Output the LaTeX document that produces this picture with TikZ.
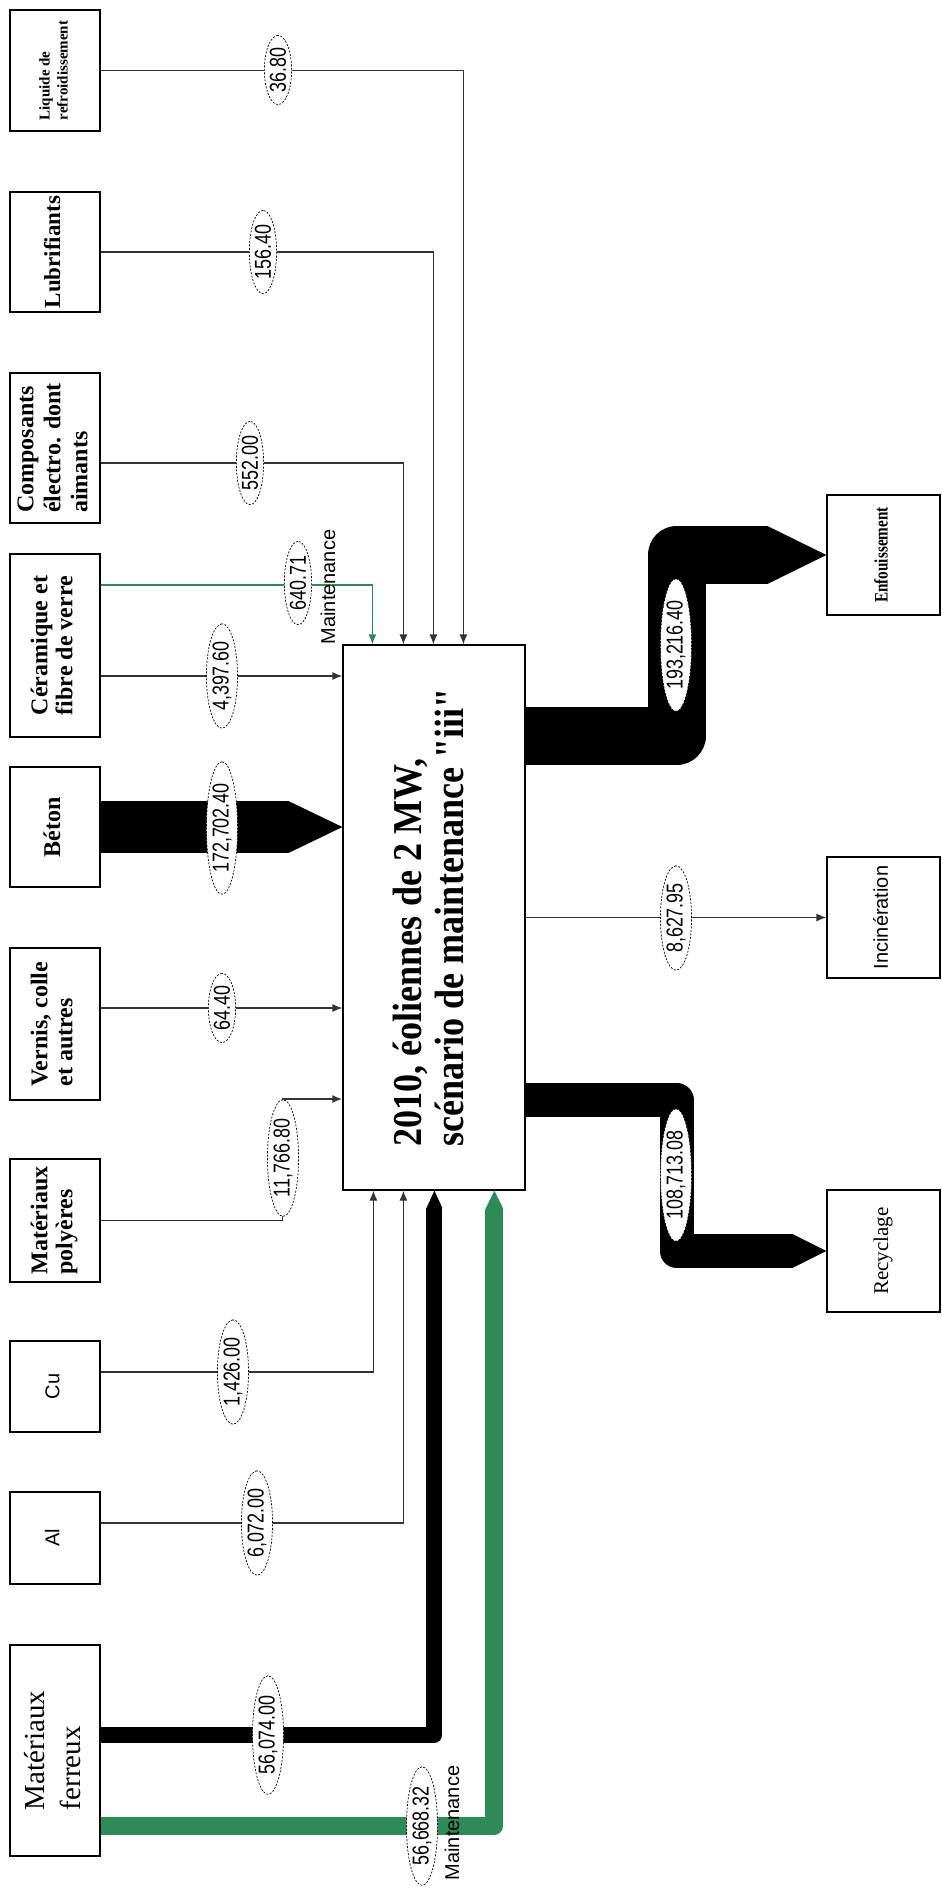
\documentclass[tikz,border=0pt]{standalone}
\usepackage{fontspec}
\setmainfont{Liberation Serif}
\newfontfamily\titlefont[FakeStretch=0.88]{Liberation Serif}
\newfontfamily\valfont[FakeStretch=0.78]{Liberation Sans}
\newfontfamily\lblsans{Liberation Sans}
\newfontfamily\narrowserif[FakeStretch=0.8]{Liberation Serif}
\usepackage{graphicx}
\usepackage{tikz}
\usetikzlibrary{calc,arrows.meta,positioning,shapes.geometric}
\definecolor{linec}{HTML}{333333}
\definecolor{maintc}{HTML}{2E8B57}
\newcommand{\vtext}[2]{\rotatebox{90}{#1\begin{tabular}{@{}l@{}}#2\end{tabular}}}
\tikzset{
  box/.style={draw=black,line width=1.2pt,fill=white,inner sep=0pt},
  srcbox/.style={box,minimum width=90pt},
  outbox/.style={box,minimum width=113pt},
  ar/.style={-{Latex[length=10pt,width=8pt]},line width=1.2pt,linec},
  mar/.style={ar,maintc},
  band/.style={line width=#1,line join=round},
  val/.style={ellipse,draw,dash pattern=on 2pt off 1.5pt,line width=0.7pt,fill=white,rotate=90,
    inner xsep=2pt,inner ysep=1.5pt,minimum height=27pt,font=\valfont\fontsize{23}{25}\selectfont},
  mnote/.style={rotate=90,inner sep=0pt,font=\lblsans\fontsize{20}{22}\selectfont}
}

\begin{document}
\begin{tikzpicture}[x=1pt,y=-1pt]
\useasboundingbox (0,0) rectangle (942,1888);
\fill[white] (0,0) rectangle (942,1888);
% inputs
\node[srcbox,minimum height=121pt] (liq) at (55,70.5) {\vtext{\bfseries\fontsize{15}{18}\selectfont}{Liquide de\\refroidissement}};
\node[srcbox,minimum height=120pt] (lub) at (55,252) {\vtext{\bfseries\fontsize{23}{26}\selectfont}{Lubrifiants}};
\node[srcbox,minimum height=150pt] (comp) at (55,448) {\vtext{\bfseries\fontsize{24}{27}\selectfont}{Composants\\électro. dont\\aimants}};
\node[srcbox,minimum height=183pt] (cer) at (55,645.5) {\vtext{\bfseries\fontsize{24}{25}\selectfont}{Céramique et\\fibre de verre}};
\node[srcbox,minimum height=120pt] (bet) at (55,827) {\vtext{\bfseries\fontsize{24}{26}\selectfont}{Béton}};
\node[srcbox,minimum height=152pt] (ver) at (55,1024) {\vtext{\bfseries\fontsize{24}{25}\selectfont}{Vernis, colle\\et autres}};
\node[srcbox,minimum height=123pt] (pol) at (55,1220.5) {\vtext{\bfseries\fontsize{24}{25}\selectfont}{Matériaux\\polyères}};
\node[srcbox,minimum height=91pt] (cu) at (55,1386.5) {\vtext{\lblsans\fontsize{20}{22}\selectfont}{Cu}};
\node[srcbox,minimum height=92pt] (al) at (55,1538) {\vtext{\lblsans\fontsize{20}{22}\selectfont}{Al}};
\node[srcbox,minimum height=211pt] (fer) at (55,1750.5) {\vtext{\fontsize{29}{36}\selectfont}{Matériaux\\ferreux}};
% process and outputs
\node[box,minimum width=182pt,minimum height=545pt] (centre) at (434,917.5)
  {\vtext{\titlefont\bfseries\fontsize{41}{42}\selectfont}{2010, éoliennes de 2 MW,\\scénario de maintenance "iii"}};
\node[outbox,minimum height=120pt] (enf) at (883.5,555) {\vtext{\narrowserif\bfseries\fontsize{19}{21}\selectfont}{Enfouissement}};
\node[outbox,minimum height=121pt] (inc) at (883.5,917.5) {\vtext{\lblsans\fontsize{20}{22}\selectfont}{Incinération}};
\node[outbox,minimum height=122pt] (rec) at (883.5,1251) {\vtext{\fontsize{21}{23}\selectfont}{Recyclage}};

% flows from above
\draw[ar] (liq.east) -| ($(centre.north west)+(121,0)$);
\draw[ar] (lub.east) -| ($(centre.north west)+(91,0)$);
\draw[ar] ($(comp.east)+(0,15)$) -| ($(centre.north west)+(61,0)$);
\draw[mar] ($(cer.east)+(0,-60.5)$) -| ($(centre.north west)+(30,0)$);
% flows from the left
\coordinate (cerb) at ($(cer.east)+(0,30.5)$);
\draw[ar] (cerb) -- (cerb -| centre.west);
\coordinate (betip) at (centre.west |- bet.east);
\draw[band=52pt] (bet.east) -- ($(betip)+(-53.5,0)$);
\fill ($(betip)+(-54,-26)$) -- (betip) -- ($(betip)+(-54,26)$) -- cycle;
\coordinate (verb) at ($(ver.east)+(0,-16)$);
\draw[ar] (verb) -- (verb -| centre.west);
\draw[ar,line width=1.8pt] (pol.east) -| ($(centre.west)+(-60,181.5)$) -- ($(centre.west)+(0,181.5)$);
% flows from below
\draw[ar] ($(cu.east)+(0,-14.5)$) -| ($(centre.south west)+(31,0)$);
\draw[ar] ($(al.east)+(0,-15)$) -| ($(centre.south west)+(61,0)$);
\draw[band=16pt] ($(fer.east)+(0,-15.5)$) -| ($(centre.south west)+(92,17)$);
\fill ($(centre.south west)+(84,17.5)$) -- ($(centre.south west)+(92,0)$) -- ($(centre.south west)+(100,17.5)$) -- cycle;
\draw[band=18pt,maintc] ($(fer.east)+(0,75.5)$) -| ($(centre.south west)+(152,18)$);
\fill[maintc] ($(centre.south west)+(143,18.5)$) -- ($(centre.south west)+(152,0)$) -- ($(centre.south west)+(161,18.5)$) -- cycle;
% outputs
\draw[band=58pt] ($(centre.east)+(0,-181.5)$) -- ($(centre.east)+(151,-181.5)$) |- ($(enf.west)+(-58.5,0)$);
\fill ($(enf.west)+(-59,-29)$) -- (enf.west) -- ($(enf.west)+(-59,29)$) -- cycle;
\draw[ar] (centre.east |- inc.west) -- (inc.west);
\draw[band=34pt] ($(centre.east)+(0,182.5)$) -- ($(centre.east)+(151,182.5)$) |- ($(rec.west)+(-33.5,0)$);
\fill ($(rec.west)+(-34,-17)$) -- (rec.west) -- ($(rec.west)+(-34,17)$) -- cycle;

% values
\node[val] (vliq) at (278,70) {36.80};
\node[val] (vlub) at (263,252) {156.40};
\node[val] (vcomp) at (250,463) {552.00};
\node[val] (vcerm) at (298,583) {640.71};
\node[val] (vcer) at (222,676) {4,397.60};
\node[val] (vbet) at (222,828) {172,702.40};
\node[val] (vver) at (222,1008) {64.40};
\node[val] (vpol) at (283,1158) {11,766.80};
\node[val] (vcu) at (233,1372) {1,426.00};
\node[val] (val) at (257,1523) {6,072.00};
\node[val] (vfer) at (268,1735) {56,074.00};
\node[val] (vferm) at (422,1826) {56,668.32};
\node[val] (venf) at (676,645) {193,216.40};
\node[val] (vinc) at (676,918) {8,627.95};
\node[val] (vrec) at (676,1175) {108,713.08};
\node[mnote] (mcer) at (328,587) {Maintenance};
\node[mnote] (mfer) at (452,1823) {Maintenance};
\end{tikzpicture}
\end{document}
